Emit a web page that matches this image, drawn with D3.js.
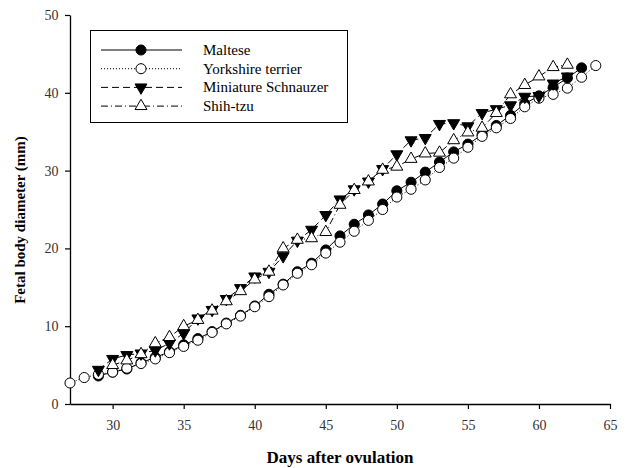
<!DOCTYPE html>
<html>
<head>
<meta charset="utf-8">
<script src="https://cdn.jsdelivr.net/npm/d3@7"></script>
<style>
  body { margin: 0; background: #fff; }
</style>
</head>
<body>
<div id="chart"></div>
<script>
const width = 627, height = 468;
const serif = "'Liberation Serif', 'Times New Roman', 'DejaVu Serif', serif";

// data (days after ovulation -> fetal body diameter, mm)
const malteseDays = d3.range(29, 64);
const malteseVals = [3.6, 4.1, 4.5, 5.3, 6.0, 6.7, 7.6, 8.4, 9.3, 10.4, 11.4, 12.6, 14.1, 15.4, 17.0, 18.1, 19.8, 21.6, 23.1, 24.3, 25.7, 27.4, 28.5, 29.8, 31.1, 32.4, 33.4, 34.6, 35.8, 37.1, 38.6, 39.6, 40.7, 41.9, 43.2];

const yorkDays = d3.range(27, 65);
const yorkVals = [2.7, 3.4, 3.8, 4.1, 4.6, 5.2, 5.8, 6.6, 7.4, 8.2, 9.2, 10.3, 11.3, 12.5, 13.8, 15.3, 16.8, 17.9, 19.4, 20.8, 22.2, 23.6, 25.0, 26.6, 27.6, 28.8, 30.4, 31.6, 33.0, 34.4, 35.5, 36.7, 38.2, 39.3, 39.8, 40.6, 42.0, 43.5];

const schnauzerDays = d3.range(29, 63);
const schnauzerVals = [4.4, 5.8, 6.3, 6.5, 6.9, 7.8, 9.1, 11.0, 12.1, 13.5, 14.9, 16.4, 17.0, 19.0, 21.0, 22.4, 24.3, 26.3, 27.6, 28.6, 30.2, 32.1, 33.9, 34.2, 36.0, 36.1, 35.7, 37.4, 37.9, 38.4, 39.5, 39.6, 41.2, 42.1];

const shihDays = d3.range(30, 63);
const shihVals = [5.0, 5.6, 6.4, 7.8, 8.6, 10.0, 10.8, 12.0, 13.2, 14.5, 16.0, 17.0, 20.0, 21.1, 21.3, 22.1, 25.6, 27.5, 28.6, 30.1, 30.5, 31.5, 32.2, 32.3, 33.9, 34.9, 35.5, 37.4, 39.8, 41.0, 42.1, 43.3, 43.6];

const xTicks = [30, 35, 40, 45, 50, 55, 60, 65];
const yTicks = [0, 10, 20, 30, 40, 50];

const series = [
  { name: "Maltese", days: malteseDays, vals: malteseVals, dash: null, sym: "circle", fill: "#000" },
  { name: "Yorkshire terrier", days: yorkDays, vals: yorkVals, dash: "1,2", sym: "circle", fill: "#fff" },
  { name: "Miniature Schnauzer", days: schnauzerDays, vals: schnauzerVals, dash: "7,4", sym: "down", fill: "#000" },
  { name: "Shih-tzu", days: shihDays, vals: shihVals, dash: "7,3,1,3", sym: "up", fill: "#fff" }
];

const margin = { left: 70, top: 15, right: 17, bottom: 64 };

const x = d3.scaleLinear().domain([27, 65]).range([margin.left, width - margin.right]);
const y = d3.scaleLinear().domain([0, 50]).range([height - margin.bottom, margin.top]);

const svg = d3.select("#chart").append("svg")
  .attr("width", width)
  .attr("height", height)
  .style("font-family", serif);

// axes
const xAxis = svg.append("g")
  .attr("transform", `translate(0, ${y(0)})`)
  .call(d3.axisBottom(x).tickValues(xTicks).tickSize(5).tickSizeOuter(0));
const yAxis = svg.append("g")
  .attr("transform", `translate(${x(27)}, 0)`)
  .call(d3.axisLeft(y).tickValues(yTicks).tickSize(5).tickSizeOuter(0));

[xAxis, yAxis].forEach(a => {
  a.attr("font-family", null).attr("font-size", null);
  a.select(".domain").attr("stroke", "#000").attr("stroke-width", 1.3);
  a.selectAll(".tick line").attr("stroke", "#000").attr("stroke-width", 1.2);
  a.selectAll(".tick text")
    .style("font-family", serif)
    .style("font-size", "14px")
    .attr("fill", "#333");
});
xAxis.selectAll(".tick text").attr("dy", "1.25em");
yAxis.selectAll(".tick text").attr("dx", "-0.25em");

// axis titles
svg.append("text")
  .attr("x", (x(27) + x(65)) / 2)
  .attr("y", 463)
  .attr("text-anchor", "middle")
  .style("font-family", serif)
  .style("font-size", "17px")
  .style("font-weight", "bold")
  .text("Days after ovulation");

svg.append("text")
  .attr("transform", `translate(25, 220) rotate(-90)`)
  .attr("text-anchor", "middle")
  .style("font-family", serif)
  .style("font-size", "15px")
  .style("font-weight", "bold")
  .text("Fetal body diameter (mm)");

// symbol drawing
function symPath(s) {
  if (s === "circle") return d3.symbol().type(d3.symbolCircle).size(80)();
  return d3.symbol().type(d3.symbolTriangle).size(62)();
}
function symTransform(s, px, py) {
  if (s === "down") return `translate(${px}, ${py}) rotate(180)`;
  return `translate(${px}, ${py})`;
}

const line = d3.line().x(d => x(d[0])).y(d => y(d[1]));

series.forEach(s => {
  const pts = s.days.map((d, i) => [d, s.vals[i]]);
  const g = svg.append("g");
  g.append("path")
    .datum(pts)
    .attr("d", line)
    .attr("fill", "none")
    .attr("stroke", "#000")
    .attr("stroke-width", 1)
    .attr("stroke-dasharray", s.dash);
  g.selectAll("path.pt")
    .data(pts)
    .enter()
    .append("path")
      .attr("class", "pt")
      .attr("d", symPath(s.sym))
      .attr("transform", d => symTransform(s.sym, x(d[0]), y(d[1])))
      .attr("fill", s.fill)
      .attr("stroke", "#000")
      .attr("stroke-width", 1);
});

// legend
const legend = svg.append("g");
legend.append("rect")
  .attr("x", 90.5).attr("y", 30.5)
  .attr("width", 257).attr("height", 92)
  .attr("fill", "#fff")
  .attr("stroke", "#000")
  .attr("stroke-width", 1);

series.forEach((s, i) => {
  const ly = 50 + i * 18.7;
  legend.append("line")
    .attr("x1", 101).attr("x2", 182)
    .attr("y1", ly).attr("y2", ly)
    .attr("stroke", "#000")
    .attr("stroke-width", 1)
    .attr("stroke-dasharray", s.dash);
  legend.append("path")
    .attr("d", symPath(s.sym))
    .attr("transform", symTransform(s.sym, 141, ly))
    .attr("fill", s.fill)
    .attr("stroke", "#000");
  legend.append("text")
    .attr("x", 203).attr("y", ly + 5)
    .style("font-family", serif)
    .style("font-size", "15px")
    .text(s.name);
});
</script>
</body>
</html>
